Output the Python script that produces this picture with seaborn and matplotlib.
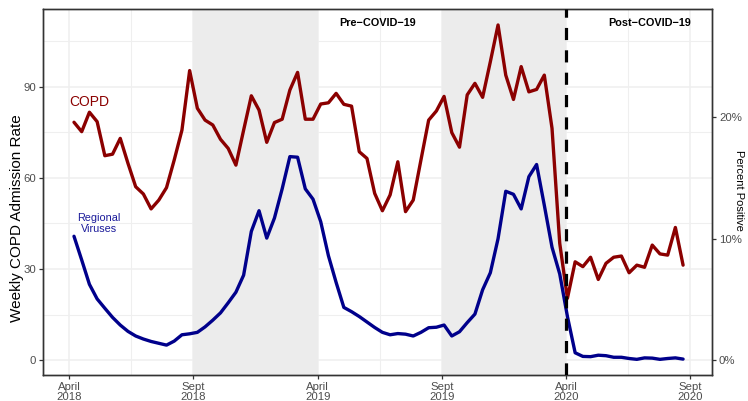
import numpy as np
import pandas as pd
import matplotlib
matplotlib.use("Agg")
import matplotlib.pyplot as plt
import seaborn as sns
from matplotlib.ticker import FixedLocator, FuncFormatter

# ---- data ----
copd_rate = [78.3, 75.2, 81.6, 78.5, 67.3, 67.8, 73.0, 64.8, 57.1, 54.7,
             49.8, 52.7, 56.8, 65.9, 75.7, 95.3, 82.9, 79.0, 77.4, 72.7,
             69.7, 64.2, 75.7, 87.0, 82.3, 71.7, 78.2, 79.3, 88.9, 94.7,
             79.3, 79.3, 84.3, 84.7, 87.8, 84.2, 83.6, 68.6, 66.4, 54.9,
             49.2, 54.4, 65.3, 48.9, 52.7, 65.9, 79.0, 82.0, 86.8, 74.9,
             70.1, 87.3, 91.1, 86.5, 98.2, 110.3, 93.8, 85.8, 96.6, 88.3,
             89.1, 93.8, 76.3, 38.5, 20.4, 32.4, 30.8, 33.9, 26.6, 31.9,
             33.9, 34.3, 28.8, 31.3, 30.6, 37.9, 35.0, 34.6, 43.7, 31.3]

virus_pct = [10.2, 8.25, 6.25, 5.05, 4.28, 3.53, 2.9, 2.38, 2.0, 1.75,
             1.55, 1.4, 1.25, 1.58, 2.1, 2.18, 2.3, 2.75, 3.3, 3.9,
             4.73, 5.6, 7.0, 10.6, 12.3, 10.05, 11.7, 14.1, 16.75, 16.7,
             14.1, 13.25, 11.4, 8.6, 6.4, 4.35, 4.0, 3.6, 3.15, 2.7,
             2.3, 2.1, 2.2, 2.15, 2.0, 2.3, 2.68, 2.72, 2.9, 2.0,
             2.35, 3.1, 3.8, 5.8, 7.2, 10.0, 13.9, 13.65, 12.45, 15.1,
             16.1, 12.75, 9.3, 7.1, 3.6, 0.62, 0.32, 0.3, 0.42, 0.38,
             0.25, 0.25, 0.15, 0.08, 0.2, 0.18, 0.08, 0.15, 0.2, 0.1]

period = list(range(len(copd_rate)))

tick_positions = [-0.6, 15.5, 31.6, 47.7, 63.8, 79.9]
tick_labels = ["April\n2018", "Sept\n2018", "April\n2019", "Sept\n2019", "April\n2020", "Sept\n2020"]
season_spans = [(15.5, 31.6), (47.7, 63.8)]
covid_start = 63.8

left_ticks = [0, 30, 60, 90]
right_ticks = [0, 10, 20]

df = pd.DataFrame({"period": period, "copd": copd_rate, "virus": virus_pct})

# ---- styling ----
sns.set_theme(style="white")
plt.rcParams["font.family"] = ["Liberation Sans", "DejaVu Sans"]

RED = "#8b0000"
BLUE = "#00008b"
GRID = "#efefef"
SHADE = "#ececec"
TICKC = "#4d4d4d"

fig = plt.figure(figsize=(7.48, 4.01), dpi=100)
ax = fig.add_axes([43 / 748, 1 - 375 / 401, (712 - 43) / 748, (375 - 9) / 401])

ymin, ymax = -4.83, 115.55
xmin, xmax = -4.02, 82.75

ax.set_xlim(xmin, xmax)
ax.set_ylim(ymin, ymax)

# grid (major + minor)
ax.set_axisbelow(True)
ax.yaxis.set_major_locator(FixedLocator(left_ticks))
ax.yaxis.set_minor_locator(FixedLocator([15, 45, 75, 105]))
ax.xaxis.set_major_locator(FixedLocator(tick_positions))
minor_x = [(a + b) / 2 for a, b in zip(tick_positions[:-1], tick_positions[1:])]
ax.xaxis.set_minor_locator(FixedLocator(minor_x))
ax.grid(which="major", color=GRID, linewidth=1.1, zorder=0)
ax.grid(which="minor", color=GRID, linewidth=0.8, zorder=0)

for a, b in season_spans:
    ax.axvspan(a, b, color=SHADE, zorder=1, linewidth=0)

sns.lineplot(data=df, x="period", y="copd", ax=ax, color=RED, linewidth=2.4, zorder=3)

ax2 = ax.twinx()
ax2.set_ylim(ymin / 4, ymax / 4)
sns.lineplot(data=df, x="period", y="virus", ax=ax2, color=BLUE, linewidth=2.4, zorder=3)
ax2.set_xlim(xmin, xmax)

ax2.axvline(covid_start, color="black", linewidth=2.3, linestyle=(0, (3.8, 3.2)), zorder=4)

ax.set_xticklabels(tick_labels)
ax.set_xlabel("")
ax.set_ylabel("")
ax2.set_ylabel("")
ax2.yaxis.set_major_locator(FixedLocator(right_ticks))
ax2.yaxis.set_major_formatter(FuncFormatter(lambda v, p: f"{v:.0f}%"))
ax2.grid(False)

for a_ in (ax, ax2):
    a_.tick_params(axis="both", which="major", labelsize=8.2, colors=TICKC, length=3,
                   width=0.9, direction="out", pad=2)
    a_.tick_params(which="minor", length=0)
    for s in a_.spines.values():
        s.set_color("#333333")
        s.set_linewidth(1.0)
ax.tick_params(axis="x", labelcolor=TICKC, color="#333333")
ax.tick_params(axis="y", color="#333333")
ax2.tick_params(axis="y", color="#333333", left=False, right=True)
ax.tick_params(bottom=True, left=True)
for lbl in ax.get_xticklabels():
    lbl.set_linespacing(0.95)

# annotations
ax.text(1.95, 85, "COPD", color=RED, fontsize=10, ha="center", va="center", zorder=5)
ax.text(3.2, 44.9, "Regional\nViruses", color="#1a1a9a", fontsize=7.8, ha="center",
        va="center", linespacing=1.15, zorder=5)
ax.text(39.4, 110.8, "Pre\u2212COVID\u221219", color="black", fontsize=7.8,
        fontweight="bold", ha="center", va="center", zorder=5)
ax.text(74.6, 110.8, "Post\u2212COVID\u221219", color="black", fontsize=7.8,
        fontweight="bold", ha="center", va="center", zorder=5)

fig.text(17.5 / 748, 1 - 218 / 401, "Weekly COPD Admission Rate", rotation=90,
         ha="center", va="center", fontsize=11, color="black")
fig.text(734 / 748, 1 - 190 / 401, "Percent Positive", rotation=270,
         ha="left", va="center", fontsize=8, color="black")

fig.savefig("out.png", dpi=100)
